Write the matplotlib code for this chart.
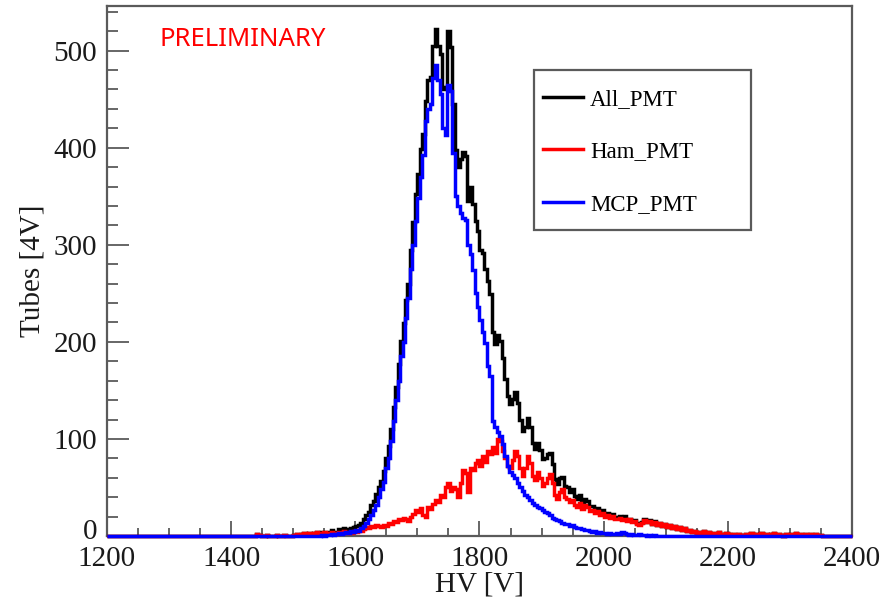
import numpy as np
import matplotlib
matplotlib.use("Agg")
import matplotlib.pyplot as plt
from matplotlib.ticker import MultipleLocator, FuncFormatter
from matplotlib.patches import Rectangle

# ---- data: 4 V bins from 1200 V to 2400 V ----
bin_lo, bin_hi, bin_w = 1200, 2400, 4

# MCP_PMT counts, first bin starts at 1540 V
mcp_start = 1540
mcp_counts = [
    0, 1, 0, 1, 1, 2, 1, 2, 3, 2, 3, 4, 3, 5, 4, 6, 5, 8,
    10, 13, 17, 22, 27, 32, 40, 48, 56, 70, 80, 98, 118, 140, 160, 185, 200, 225, 245, 275, 300, 325, 348, 370, 392,
    428, 440, 445, 472, 485, 470, 455, 420, 413, 465, 458, 395, 350, 340, 333, 328, 326, 300, 290, 274, 250, 236, 223, 210, 199,
    175, 165, 118, 112, 107, 103, 95, 82, 72, 66, 63, 60, 55, 50, 46, 42, 40, 37, 34, 32, 30, 29, 27, 25, 24,
    22, 19, 17, 16, 15, 13, 12, 12, 10, 11, 9, 8, 8, 7, 6, 6, 5, 4, 5, 3, 4, 3, 3, 2, 3,
    2, 2, 3, 2, 4, 3, 2, 1, 2, 1, 1, 2, 1, 1, 0, 1, 0, 1,
]

# Ham_PMT counts, first bin starts at 1440 V
ham_start = 1440
ham_counts = [
    2, 1, 0, 0, 1, 0, 0, 0, 1, 0, 0, 1, 0, 0, 0,
    1, 2, 1, 2, 3, 2, 3, 2, 3, 4, 2, 3, 4, 3, 2, 4, 3, 2, 4, 3, 5, 3, 4, 3, 5,
    4, 6, 5, 7, 9, 8, 10, 9, 11, 10, 9, 11, 10, 13, 12, 15, 14, 17, 16, 19, 18, 15, 20, 23, 27,
    25, 29, 22, 20, 30, 28, 33, 37, 35, 42, 40, 50, 55, 46, 50, 48, 40, 55, 68, 65, 45, 70, 68, 75, 78,
    72, 82, 76, 88, 84, 92, 86, 100, 98, 88, 80, 72, 70, 78, 88, 82, 70, 62, 70, 82, 75, 62, 58, 66, 60,
    52, 55, 60, 64, 55, 42, 38, 45, 48, 40, 38, 35, 37, 32, 30, 34, 28, 32, 30, 26, 27, 24, 26, 22, 24,
    20, 22, 19, 21, 18, 17, 19, 16, 18, 15, 17, 14, 15, 12, 11, 13, 16, 14, 15, 12, 14, 11, 13, 10, 12,
    9, 11, 8, 10, 7, 9, 6, 8, 5, 6, 4, 5, 3, 4, 3, 5, 3, 4, 2, 3, 2, 4, 2, 1, 3,
    2, 1, 2, 1, 2, 1, 1, 2, 1, 3, 2, 1, 2, 3, 1, 2, 1, 2, 3, 1, 2, 1, 0, 2, 1,
    2, 1, 3, 1, 2, 1, 2, 1, 2, 1, 2, 1, 1,
]

labels = ["All_PMT", "Ham_PMT", "MCP_PMT"]
colors = ["#000000", "#ff0000", "#0000ff"]

# ---- build full histograms ----
edges = np.arange(bin_lo, bin_hi + bin_w, bin_w)
nb = len(edges) - 1

def full_hist(start, counts):
    h = np.zeros(nb)
    i0 = (start - bin_lo) // bin_w
    h[i0:i0 + len(counts)] = counts
    return h

mcp = full_hist(mcp_start, mcp_counts)
ham = full_hist(ham_start, ham_counts)
allp = mcp + ham

# ---- figure ----
W, H = 887, 603
fig = plt.figure(figsize=(W / 100, H / 100), dpi=100)
ax = fig.add_axes([107 / W, 1 - 536 / H, (852 - 107) / W, (536 - 6) / H])

serif = ["Liberation Serif", "DejaVu Serif"]
lw = 2.5
arts = []
for h, c, lab in zip([allp, ham, mcp], colors, labels):
    a = ax.stairs(h, edges, color=c, linewidth=lw, baseline=None, label=lab,
                  zorder=3, clip_on=False)
    arts.append(a)

ax.set_xlim(bin_lo, bin_hi)
ax.set_ylim(0, 546)

spine_c = "#5a5a5a"
txt_c = "#1a1a1a"
for s in ax.spines.values():
    s.set_color(spine_c)
    s.set_linewidth(1.6)

ax.xaxis.set_major_locator(MultipleLocator(200))
ax.xaxis.set_minor_locator(MultipleLocator(50))
ax.yaxis.set_major_locator(MultipleLocator(100))
ax.yaxis.set_minor_locator(MultipleLocator(20))
# the zero label is drawn separately, slightly lifted, so it clears "1200"
ax.yaxis.set_major_formatter(FuncFormatter(lambda v, p: "" if abs(v) < 1e-9 else f"{v:.0f}"))
ax.tick_params(axis="x", which="major", direction="in", length=11, width=1.3, color=spine_c, pad=7.5)
ax.tick_params(axis="x", which="minor", direction="in", length=5.5, width=1.3, color=spine_c)
ax.tick_params(axis="y", which="major", direction="in", length=16, width=1.3, color=spine_c, pad=7)
ax.tick_params(axis="y", which="minor", direction="in", length=8, width=1.3, color=spine_c)

for lab in ax.get_xticklabels() + ax.get_yticklabels():
    lab.set_family(serif)
    lab.set_fontsize(21)
    lab.set_color(txt_c)

ax.annotate("0", xy=(0, 0), xycoords=("axes fraction", "data"), xytext=(-7, 3),
            textcoords="offset points", ha="right", va="center",
            family=serif, fontsize=21, color=txt_c, annotation_clip=False)

ax.set_xlabel("HV [V]", family=serif, fontsize=21, color=txt_c, labelpad=-1)
ax.set_ylabel("Tubes [4V]", family=serif, fontsize=21, color=txt_c, labelpad=6)

ax.text(0.071, 0.936, "PRELIMINARY", transform=ax.transAxes, color="#ff0000",
        fontsize=18.5, family=["Noto Sans", "DejaVu Sans"], fontweight="semibold",
        ha="left", va="center")

# legend box (ROOT TLegend style)
ax.add_patch(Rectangle((0.5732, 0.5774), 0.2913, 0.3019, transform=ax.transAxes,
                       facecolor="white", edgecolor=spine_c, linewidth=1.6, zorder=5))
leg = ax.legend(handles=arts, labels=labels, loc="upper left",
                bbox_to_anchor=(0.5852, 0.8440),
                prop={"family": serif, "size": 16.5}, frameon=False,
                borderpad=0.0, labelspacing=1.38,
                handlelength=1.75, handletextpad=0.3, borderaxespad=0.0)
leg.set_zorder(6)
for l in leg.get_lines():
    l.set_linewidth(lw)

fig.savefig("out.png", dpi=100)
